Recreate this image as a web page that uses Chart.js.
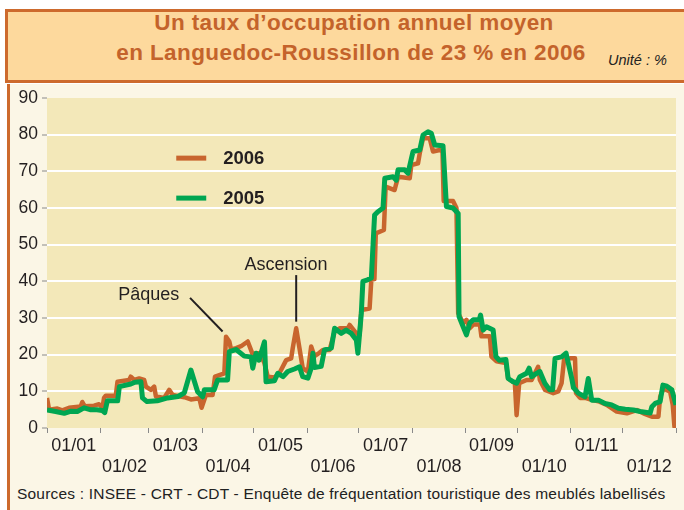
<!DOCTYPE html>
<html>
<head>
<meta charset="utf-8">
<script src="https://cdn.jsdelivr.net/npm/chart.js@4"></script>
<style>
  html, body { margin:0; padding:0; background:#ffffff; }
  #wrap { position:relative; width:684px; height:510px; overflow:hidden; background:#ffffff; font-family:"Liberation Sans", Arial, sans-serif; }
  #panel { position:absolute; left:7px; top:84px; width:680px; height:430px; background:#FBF6E6; border-left:3px solid #CD6A2D; }
  #titlebox { position:absolute; left:5px; top:9px; width:690px; height:74px; background:#FDD99D; border:3px solid #CD6A2D; box-sizing:border-box; }
  .t { position:absolute; white-space:nowrap; color:#C4632B; font-weight:bold; font-size:22.5px; letter-spacing:0.4px; }
  #unit { position:absolute; left:608px; top:52px; font-style:italic; font-size:14.5px; color:#222; white-space:nowrap; }
  #src { position:absolute; left:17px; top:485px; font-size:15.5px; letter-spacing:0.2px; color:#222; white-space:nowrap; }
  canvas { position:absolute; left:0; top:0; }
</style>
</head>
<body>
<div id="wrap">
  <div id="panel"></div>
  <div id="titlebox"></div>
  <div class="t" id="t1" style="left:0;width:708px;text-align:center;top:10px;">Un taux d’occupation annuel moyen</div>
  <div class="t" id="t2" style="left:0;width:702px;text-align:center;top:40px;">en Languedoc-Roussillon de 23 % en 2006</div>
  <div id="unit">Unité : %</div>
  <div id="src">Sources : INSEE - CRT - CDT - Enquête de fréquentation touristique des meublés labellisés</div>
  <canvas id="c" width="684" height="510"></canvas>
</div>
<script>
// ---- Data (day of year, occupancy %) ----
const monthLabels = ['01/01','01/02','01/03','01/04','01/05','01/06','01/07','01/08','01/09','01/10','01/11','01/12'];
const monthStarts = [0,31,59,90,120,151,181,212,243,273,304,334,365];
const yTicks = [0,10,20,30,40,50,60,70,80,90];

const days2006 = [0,1.2,6,8.9,12.8,19.6,20.5,21.9,27.3,30.2,32.2,33.1,34.1,39.9,40.9,47.7,48.6,50.6,53.5,56.4,57.4,60.3,62.2,63.2,68,70.9,72.9,79.7,83.5,88.4,89.7,92.2,96.1,97.5,102.9,103.9,105.8,106.8,109.7,112.6,116.5,119.4,121.3,123.3,126.2,128.1,132,134.9,138.8,141.7,142.6,144.6,146.5,148.4,151.4,153.3,155.2,158.1,160.1,164,166.9,169.8,174.6,175.6,179.5,181.4,182.4,187.2,188.2,190,190.8,195.5,196.5,201.7,203.7,210.5,211.4,215.3,216.3,218.2,222.1,224,227.9,229.5,230.2,235.6,237.6,238.6,241.5,243.4,245.3,247.3,251.2,252.1,257,257.9,260.9,266.3,267.6,271.5,272.5,274,278.3,281.2,285,286,289,293.8,296.7,298.6,300,303.5,306.4,307,309.3,312.2,316.1,319.9,324.8,330.6,336.5,342.3,346.1,351,354.8,355.8,357.7,361.6,363.1,364.1,365];
const occ2006 = [8.2,5.0,5.3,4.8,5.5,5.9,7.1,5.9,6.1,6.5,5.5,8.2,8.8,8.8,12.6,13.1,14.0,13.1,13.5,13.1,11.3,10.4,11.3,8.6,8.2,10.4,9.0,8.4,7.8,8.1,5.5,9.0,9.0,14.0,14.9,24.9,23.6,21.4,21.8,22.3,23.6,20.0,20.4,20.4,17.7,14.0,13.8,15.0,18.5,19.0,21.8,27.2,21.8,16.3,15.4,22.2,19.6,20.5,21.3,21.3,26.3,27.2,27.2,28.1,25.8,25.4,32.2,32.6,40.4,40.6,53.1,54.0,65.8,64.9,68.5,68.1,71.7,72.2,74.9,79.0,79.0,75.4,75.8,75.4,61.9,61.9,60.0,31.3,28.6,29.5,27.2,28.2,28.2,25.0,25.0,19.5,18.2,17.7,13.5,12.2,3.5,12.2,13.1,13.1,16.7,13.1,10.4,9.5,10.0,12.2,18.5,19.0,19.0,9.5,8.2,8.2,7.7,7.3,6.3,4.5,4.0,4.9,4.0,3.1,3.1,8.5,10.8,9.9,6.3,0.4,6.3];

const days2005 = [0,5,10,14,17.6,21.5,25,29,32,33.5,35,41,42,48.6,51,54.5,55.4,58,64,70,76,79.7,83.5,87.4,90.3,91.3,97,99,104.8,105.8,109.7,114.5,118.4,119.4,121.3,123,126.2,127.1,132,133.9,137,139.7,143.6,146.5,148.4,151.4,153.3,154.3,155.2,159.1,161,165,166.9,170.7,173.6,176.6,179.5,180.4,182.4,183.3,186,188.2,190.1,192,195,196,200.8,202.7,203.7,207.6,209.5,212.4,216.3,218.2,221.1,223,225,229.8,231.8,235.6,238.6,239.1,241.5,243.4,245.3,247.3,250.8,251.6,253.1,255,258.9,260.5,262.4,266.3,267.6,270.6,272.5,274.4,278.3,279.8,281.2,284.1,286,288.9,291.7,293.4,294.8,298.6,301.2,302.5,304.5,305.5,308.3,312.2,314.1,316.1,320,323.8,327.7,331.6,335.5,340.3,344.2,350,351,352.9,355.8,357.4,359.7,362.6,365];
const occ2005 = [4.9,4.5,4.0,4.6,4.5,5.5,5.0,5.0,4.8,4.2,7.4,7.4,11.3,12.0,12.5,12.6,8.2,7.2,7.4,8.2,8.6,9.6,15.8,9.9,8.5,10.4,10.4,13.1,13.1,20.8,21.4,19.6,19.4,16.3,20.4,18.5,23.5,12.6,12.9,14.9,14.0,15.4,16.1,16.7,14.0,13.6,16.3,20.4,16.5,16.8,21.3,21.8,27.2,25.8,26.7,25.8,24.0,20.4,31.3,40.0,40.4,40.9,58.1,59.0,60.0,68.1,68.5,67.6,70.4,70.4,69.5,75.4,75.8,79.9,80.8,80.4,77.2,77.0,60.4,60.0,58.5,30.4,27.6,25.4,28.6,29.5,29.5,30.8,26.7,27.6,26.7,19.5,18.5,18.7,13.5,12.6,12.2,14.0,14.9,16.3,14.0,14.9,15.4,12.2,10.4,10.4,19.0,19.4,20.4,17.7,13.5,11.0,9.5,8.5,13.5,7.6,7.6,6.7,6.3,5.4,5.1,4.9,4.5,4.1,5.8,6.7,7.2,11.7,11.4,10.4,6.3];

const seriesNames = ['2006','2005'];
const seriesColors = ['#C8652E','#00A651'];

// annotations in data coordinates
const annotations = [
  { text:'Pâques', tx:59, ty:36.3, x1:83, y1:35.5, x2:101.9, y2:26.3 },
  { text:'Ascension', tx:138.7, ty:44.5, x1:144.6, y1:41.7, x2:144.6, y2:29.0 }
];
const legendPos = [ {x1:75, x2:92.4, y:73.6}, {x1:75, x2:92.4, y:62.7} ];

const FONT = '"Liberation Sans", Arial, sans-serif';

const xTickValues = [];
monthStarts.forEach((d,i)=>{
  xTickValues.push(d);
  if (i < 12) xTickValues.push((d + monthStarts[i+1]) / 2);
});
const isBoundary = v => monthStarts.indexOf(v) >= 0;

const bgPlugin = {
  id:'bg',
  beforeDraw(chart){
    const {ctx, chartArea:a} = chart;
    ctx.save();
    ctx.fillStyle = '#F3E8B9';
    ctx.fillRect(a.left, a.top, a.right - a.left, a.bottom - a.top);
    ctx.restore();
  }
};

const overlayPlugin = {
  id:'overlay',
  afterDraw(chart){
    const ctx = chart.ctx;
    const xs = chart.scales.x, ys = chart.scales.y;
    ctx.save();
    // legend
    legendPos.forEach((p,i)=>{
      const y = ys.getPixelForValue(p.y);
      ctx.strokeStyle = seriesColors[i];
      ctx.lineWidth = 5;
      ctx.lineCap = 'butt';
      ctx.beginPath();
      ctx.moveTo(xs.getPixelForValue(p.x1), y);
      ctx.lineTo(xs.getPixelForValue(p.x2), y);
      ctx.stroke();
      ctx.fillStyle = '#231F20';
      ctx.font = 'bold 18.5px ' + FONT;
      ctx.textAlign = 'left';
      ctx.textBaseline = 'middle';
      ctx.fillText(seriesNames[i], xs.getPixelForValue(p.x2) + 17, y + 1);
    });
    // annotations
    annotations.forEach(a=>{
      ctx.strokeStyle = '#231F20';
      ctx.lineWidth = 2;
      ctx.beginPath();
      ctx.moveTo(xs.getPixelForValue(a.x1), ys.getPixelForValue(a.y1));
      ctx.lineTo(xs.getPixelForValue(a.x2), ys.getPixelForValue(a.y2));
      ctx.stroke();
      ctx.fillStyle = '#231F20';
      ctx.font = '18px ' + FONT;
      ctx.textAlign = 'center';
      ctx.textBaseline = 'middle';
      ctx.fillText(a.text, xs.getPixelForValue(a.tx), ys.getPixelForValue(a.ty));
    });
    ctx.restore();
  }
};

const toPts = (d, v) => d.map((x,i)=>({x:x, y:v[i]}));

new Chart(document.getElementById('c'), {
  type:'line',
  data:{
    datasets:[
      { label:seriesNames[0], data:toPts(days2006, occ2006), borderColor:seriesColors[0], borderWidth:4.5, pointRadius:0, tension:0, order:2, borderJoinStyle:'round' },
      { label:seriesNames[1], data:toPts(days2005, occ2005), borderColor:seriesColors[1], borderWidth:5, pointRadius:0, tension:0, order:1, borderJoinStyle:'round' }
    ]
  },
  options:{
    responsive:false,
    animation:false,
    events:[],
    layout:{ padding:{ top:98, left:0, right:8, bottom:0 } },
    plugins:{ legend:{display:false}, tooltip:{enabled:false} },
    scales:{
      x:{
        type:'linear', min:0, max:365,
        afterBuildTicks(s){ s.ticks = xTickValues.map(v=>({value:v})); },
        afterFit(s){ s.height = 82; },
        border:{ display:false },
        grid:{ drawOnChartArea:false, tickLength:5, tickWidth:1,
               tickColor:(c)=> (c.tick && isBoundary(c.tick.value)) ? '#8a8a8a' : 'rgba(0,0,0,0)' },
        ticks:{
          autoSkip:false, maxRotation:0, minRotation:0, padding:2,
          color:'#231F20', font:{ family:FONT, size:18, lineHeight:1.2 },
          callback:(v)=>{
            if (isBoundary(v)) return '';
            const i = xTickValues.indexOf(v);
            const m = (i - 1) / 2;
            return m % 2 === 0 ? [monthLabels[m], ''] : ['', monthLabels[m]];
          }
        }
      },
      y:{
        min:0, max:90,
        afterBuildTicks(s){ s.ticks = yTicks.map(v=>({value:v})); },
        afterFit(s){ s.width = 47; },
        border:{ display:false },
        grid:{
          color:(c)=> (c.tick && (c.tick.value === 0 || c.tick.value === 90)) ? 'rgba(0,0,0,0)' : '#ffffff',
          lineWidth:2, tickLength:5, tickWidth:1, tickColor:'#8a8a8a'
        },
        ticks:{ padding:4, color:'#231F20', font:{ family:FONT, size:17.5 } }
      }
    }
  },
  plugins:[bgPlugin, overlayPlugin]
});
</script>
</body>
</html>
